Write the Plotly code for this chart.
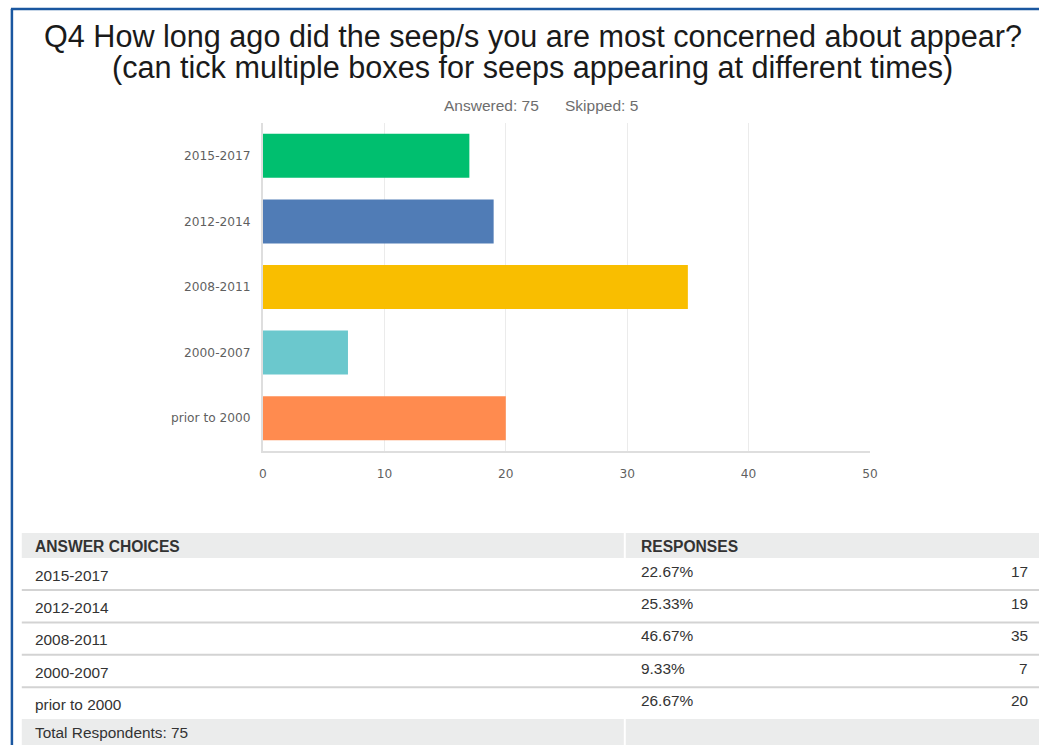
import plotly.graph_objects as go

# Survey question data
question = "Q4 How long ago did the seep/s you are most concerned about appear?"
subtitle = "(can tick multiple boxes for seeps appearing at different times)"
answered = 75
skipped = 5

categories = ["2015-2017", "2012-2014", "2008-2011", "2000-2007", "prior to 2000"]
counts = [17, 19, 35, 7, 20]
bar_colors = ["#00bf6f", "#507cb6", "#f9be00", "#6bc8cd", "#ff8b4f"]
x_ticks = [0, 10, 20, 30, 40, 50]
total_respondents = 75

W, H = 1047, 745


def px(x):
    return x / W


def py(y):
    return 1 - y / H


fig = go.Figure()
fig.add_trace(go.Bar(
    y=categories,
    x=counts,
    orientation="h",
    marker=dict(color=bar_colors, line=dict(width=0)),
    width=0.67,
    hoverinfo="x+y",
))

tick_font = dict(family="DejaVu Sans", size=12.2, color="#5f5f5f")

fig.update_layout(
    width=W, height=H,
    autosize=False,
    margin=dict(l=0, r=0, t=0, b=0, pad=0),
    paper_bgcolor="white",
    plot_bgcolor="white",
    showlegend=False,
    bargap=0.33,
    xaxis=dict(
        domain=[px(262), px(876)],
        range=[0, 50],
        tickvals=x_ticks,
        ticks="",
        showgrid=True,
        gridcolor="#ebebeb",
        gridwidth=1,
        showline=True,
        linecolor="#dedede",
        linewidth=2,
        zeroline=False,
        tickfont=tick_font,
        ticklabelstandoff=10,
        fixedrange=True,
    ),
    yaxis=dict(
        domain=[py(451), py(123)],
        categoryorder="array",
        categoryarray=categories,
        range=[4.5, -0.5],
        ticks="",
        showgrid=False,
        showline=True,
        linecolor="#dedede",
        linewidth=2,
        zeroline=False,
        tickfont=tick_font,
        ticklabelstandoff=8,
        fixedrange=True,
    ),
)

shapes = []
annotations = []

# Blue frame along the top and left edges
frame_color = "#1a57a0"
shapes.append(dict(type="line", xref="paper", yref="paper",
                   x0=px(7), x1=1, y0=py(9), y1=py(9),
                   line=dict(color=frame_color, width=2.5)))
shapes.append(dict(type="line", xref="paper", yref="paper",
                   x0=px(8), x1=px(8), y0=py(9), y1=0,
                   line=dict(color=frame_color, width=2.5)))

# Title lines
title_font = dict(family="Liberation Sans, Arial", size=30.6, color="#1a1a1a")
annotations.append(dict(text=question, xref="paper", yref="paper",
                        x=px(535), y=py(37), xanchor="center", yanchor="middle",
                        showarrow=False, font=title_font))
annotations.append(dict(text=subtitle, xref="paper", yref="paper",
                        x=px(535), y=py(67), xanchor="center", yanchor="middle",
                        showarrow=False, font=title_font))

meta_font = dict(family="Liberation Sans, Arial", size=15.5, color="#6d6d6d")
annotations.append(dict(text=f"Answered: {answered}", xref="paper", yref="paper",
                        x=px(443), y=py(105), xanchor="left", yanchor="middle",
                        showarrow=False, font=meta_font))
annotations.append(dict(text=f"Skipped: {skipped}", xref="paper", yref="paper",
                        x=px(565), y=py(105), xanchor="left", yanchor="middle",
                        showarrow=False, font=meta_font))

# Response table
table_left, table_right = 18, W
divider_x = 628
header_top, header_bottom = 533, 558
row_h = 32.4
total_top = 719
gray_bg = "#ebecec"
cell_font = dict(family="Liberation Sans, Arial", size=15.4, color="#333333")
head_font = dict(family="Liberation Sans, Arial", size=15.6, color="#333333")

shapes.append(dict(type="rect", xref="paper", yref="paper", layer="below",
                   x0=px(table_left), x1=px(table_right),
                   y0=py(header_bottom), y1=py(header_top),
                   fillcolor=gray_bg, line=dict(width=0)))
shapes.append(dict(type="rect", xref="paper", yref="paper", layer="below",
                   x0=px(table_left), x1=px(table_right),
                   y0=0, y1=py(total_top),
                   fillcolor=gray_bg, line=dict(width=0)))
for top, bottom in [(header_top, header_bottom), (total_top, H)]:
    shapes.append(dict(type="line", xref="paper", yref="paper",
                       x0=px(divider_x), x1=px(divider_x),
                       y0=py(bottom), y1=py(top),
                       line=dict(color="white", width=2)))

annotations.append(dict(text="<b>ANSWER CHOICES</b>", xref="paper", yref="paper",
                        x=px(29), y=py(546), xanchor="left", yanchor="middle",
                        showarrow=False, font=head_font))
annotations.append(dict(text="<b>RESPONSES</b>", xref="paper", yref="paper",
                        x=px(642), y=py(546), xanchor="left", yanchor="middle",
                        showarrow=False, font=head_font))

for i, (cat, n) in enumerate(zip(categories, counts)):
    y_label = 575 + i * row_h
    y_value = 571 + i * row_h
    pct = n / total_respondents * 100
    annotations.append(dict(text=cat, xref="paper", yref="paper",
                            x=px(29), y=py(y_label), xanchor="left", yanchor="middle",
                            showarrow=False, font=cell_font))
    annotations.append(dict(text=f"{pct:.2f}%", xref="paper", yref="paper",
                            x=px(642), y=py(y_value), xanchor="left", yanchor="middle",
                            showarrow=False, font=cell_font))
    annotations.append(dict(text=str(n), xref="paper", yref="paper",
                            x=px(1038), y=py(y_value), xanchor="right", yanchor="middle",
                            showarrow=False, font=cell_font))
    if i < len(categories) - 1:
        sep_y = 590 + i * row_h
        shapes.append(dict(type="line", xref="paper", yref="paper",
                           x0=px(table_left), x1=px(table_right),
                           y0=py(sep_y), y1=py(sep_y),
                           line=dict(color="#d3d3d3", width=2)))

annotations.append(dict(text=f"Total Respondents: {total_respondents}", xref="paper", yref="paper",
                        x=px(29), y=py(732), xanchor="left", yanchor="middle",
                        showarrow=False, font=cell_font))

fig.update_layout(shapes=shapes, annotations=annotations)
fig.write_html(
    "out.html",
    config={"displayModeBar": False, "responsive": False},
    post_script="document.body.style.margin='0';document.body.style.overflow='hidden';",
)
